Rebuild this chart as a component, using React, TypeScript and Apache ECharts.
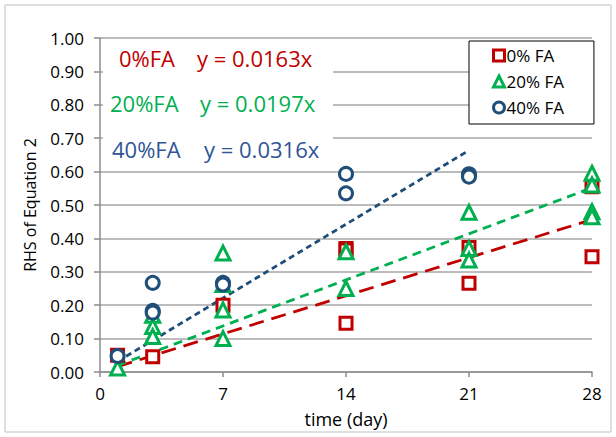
import React, { useEffect, useRef } from "react";
import * as echarts from "echarts";

// Measured RHS values per mix, as [time (day), value]
const fa0: number[][] = [
  [1, 0.05], [3, 0.046], [7, 0.2], [14, 0.37], [14, 0.365], [14, 0.146],
  [21, 0.373], [21, 0.266], [28, 0.555], [28, 0.345],
];
const fa20: number[][] = [
  [1, 0.012], [3, 0.17], [3, 0.136], [3, 0.106], [7, 0.356], [7, 0.262],
  [7, 0.186], [7, 0.1], [14, 0.36], [14, 0.25], [21, 0.478], [21, 0.37],
  [21, 0.335], [28, 0.595], [28, 0.56], [28, 0.48], [28, 0.465],
];
const fa40: number[][] = [
  [1, 0.048], [3, 0.267], [3, 0.183], [3, 0.178], [7, 0.267], [7, 0.262],
  [14, 0.593], [14, 0.535], [21, 0.592], [21, 0.585],
];

// Linear fits through the origin (slope) and the day span they cover
const slopes = [0.0163, 0.0197, 0.0316];
const fitSpans = [[1, 28], [1, 28], [1, 21]];

const names = ["0% FA", "20% FA", "40% FA"];
const fitLabels = ["0%FA", "20%FA", "40%FA"];
const colors = ["#c00000", "#00b050", "#1f4e79"];
const textColors = ["#c00000", "#00b050", "#2f5597"];
const symbols = ["rect", "triangle", "circle"];
const dashes = [[15, 8], [9, 6], [6, 4]];

const xTicks = [0, 7, 14, 21, 28];
const FONT = "'Open Sans', Lato, sans-serif";

export default function App() {
  const ref = useRef<HTMLDivElement>(null);

  useEffect(() => {
    if (!ref.current) return;
    const chart = echarts.init(ref.current, null, { renderer: "svg" });
    const sets = [fa0, fa20, fa40];

    const scatter = sets.map((d, i) => ({
      name: names[i],
      type: "scatter",
      data: d,
      symbol: symbols[i],
      symbolSize: i === 1 ? 14 : i === 0 ? 12 : 13,
      itemStyle: {
        color: "#ffffff",
        borderColor: colors[i],
        borderWidth: 3,
        opacity: 1,
      },
      z: 3,
    }));

    const fits = slopes.map((s, i) => ({
      name: fitLabels[i] + " fit",
      type: "line",
      data: fitSpans[i].map((x) => [x, s * x]),
      showSymbol: false,
      symbol: "none",
      lineStyle: { color: colors[i], width: 2.8, type: dashes[i] },
      z: 2,
    }));

    chart.setOption({
      animation: false,
      textStyle: { fontFamily: FONT },
      grid: { left: 100, right: 24, top: 38, bottom: 65 },
      legend: {
        data: names.map((n, i) => ({
          name: n,
          icon: symbols[i],
          itemStyle: { color: "#ffffff", borderColor: colors[i], borderWidth: 3, opacity: 1 },
        })),
        orient: "vertical",
        left: 469,
        top: 41,
        itemWidth: 11,
        itemHeight: 11,
        itemGap: 9,
        padding: [6, 30, 8, 23],
        backgroundColor: "#ffffff",
        borderColor: "#000000",
        borderWidth: 1,
        textStyle: { fontSize: 17, color: "#000", fontFamily: FONT, padding: [0, 0, 0, -3] },
      },
      xAxis: {
        type: "value",
        min: 0,
        max: 28,
        interval: 7,
        name: "time (day)",
        nameLocation: "middle",
        nameGap: 38,
        nameTextStyle: { fontSize: 18, color: "#000", fontFamily: FONT },
        axisLine: { lineStyle: { color: "#8c8c8c", width: 1.5 } },
        axisTick: { show: true, length: 5, lineStyle: { color: "#8c8c8c", width: 1.5 } },
        axisLabel: {
          fontSize: 17,
          color: "#000",
          margin: 13,
          formatter: (v: number) => (xTicks.includes(v) ? String(v) : ""),
        },
        splitLine: { show: false },
      },
      yAxis: {
        type: "value",
        min: 0,
        max: 1,
        interval: 0.1,
        name: "RHS of Equation 2",
        nameLocation: "middle",
        nameGap: 62,
        nameTextStyle: { fontSize: 16, color: "#000", fontFamily: FONT },
        axisLine: { show: true, lineStyle: { color: "#8c8c8c", width: 1.5 } },
        axisTick: { show: true, length: 6, lineStyle: { color: "#8c8c8c", width: 1.5 } },
        axisLabel: {
          fontSize: 17,
          color: "#000",
          margin: 16,
          formatter: (v: number) => v.toFixed(2),
        },
        splitLine: { show: true, lineStyle: { color: "#a6a6a6", width: 1.5 } },
      },
      graphic: [
        {
          type: "rect",
          shape: { x: 5, y: 5, width: 606, height: 427 },
          style: { fill: "none", stroke: "#bfbfbf", lineWidth: 1 },
          silent: true,
        },
        {
          type: "rect",
          shape: { x: 103, y: 42, width: 230, height: 117 },
          style: { fill: "#ffffff" },
          z: 5,
          silent: true,
        },
        ...fitLabels.flatMap((lab, i) => {
          const ys = [58, 103, 149];
          const lx = [119, 110, 112];
          const ex = [197, 200, 204];
          return [
            {
              type: "text",
              x: lx[i],
              y: ys[i],
              z: 6,
              style: {
                text: lab,
                fill: textColors[i],
                font: `22px ${FONT}`,
                textVerticalAlign: "middle",
              },
            },
            {
              type: "text",
              x: ex[i],
              y: ys[i],
              z: 6,
              style: {
                text: `y = ${slopes[i].toFixed(4)}x`,
                fill: textColors[i],
                font: `22px ${FONT}`,
                textVerticalAlign: "middle",
              },
            },
          ];
        }),
      ],
      series: [...fits, ...scatter],
    });

    return () => chart.dispose();
  }, []);

  return (
    <div
      ref={ref}
      style={{ width: 616, height: 437, position: "absolute", left: 0, top: 0, background: "#fff" }}
    />
  );
}
